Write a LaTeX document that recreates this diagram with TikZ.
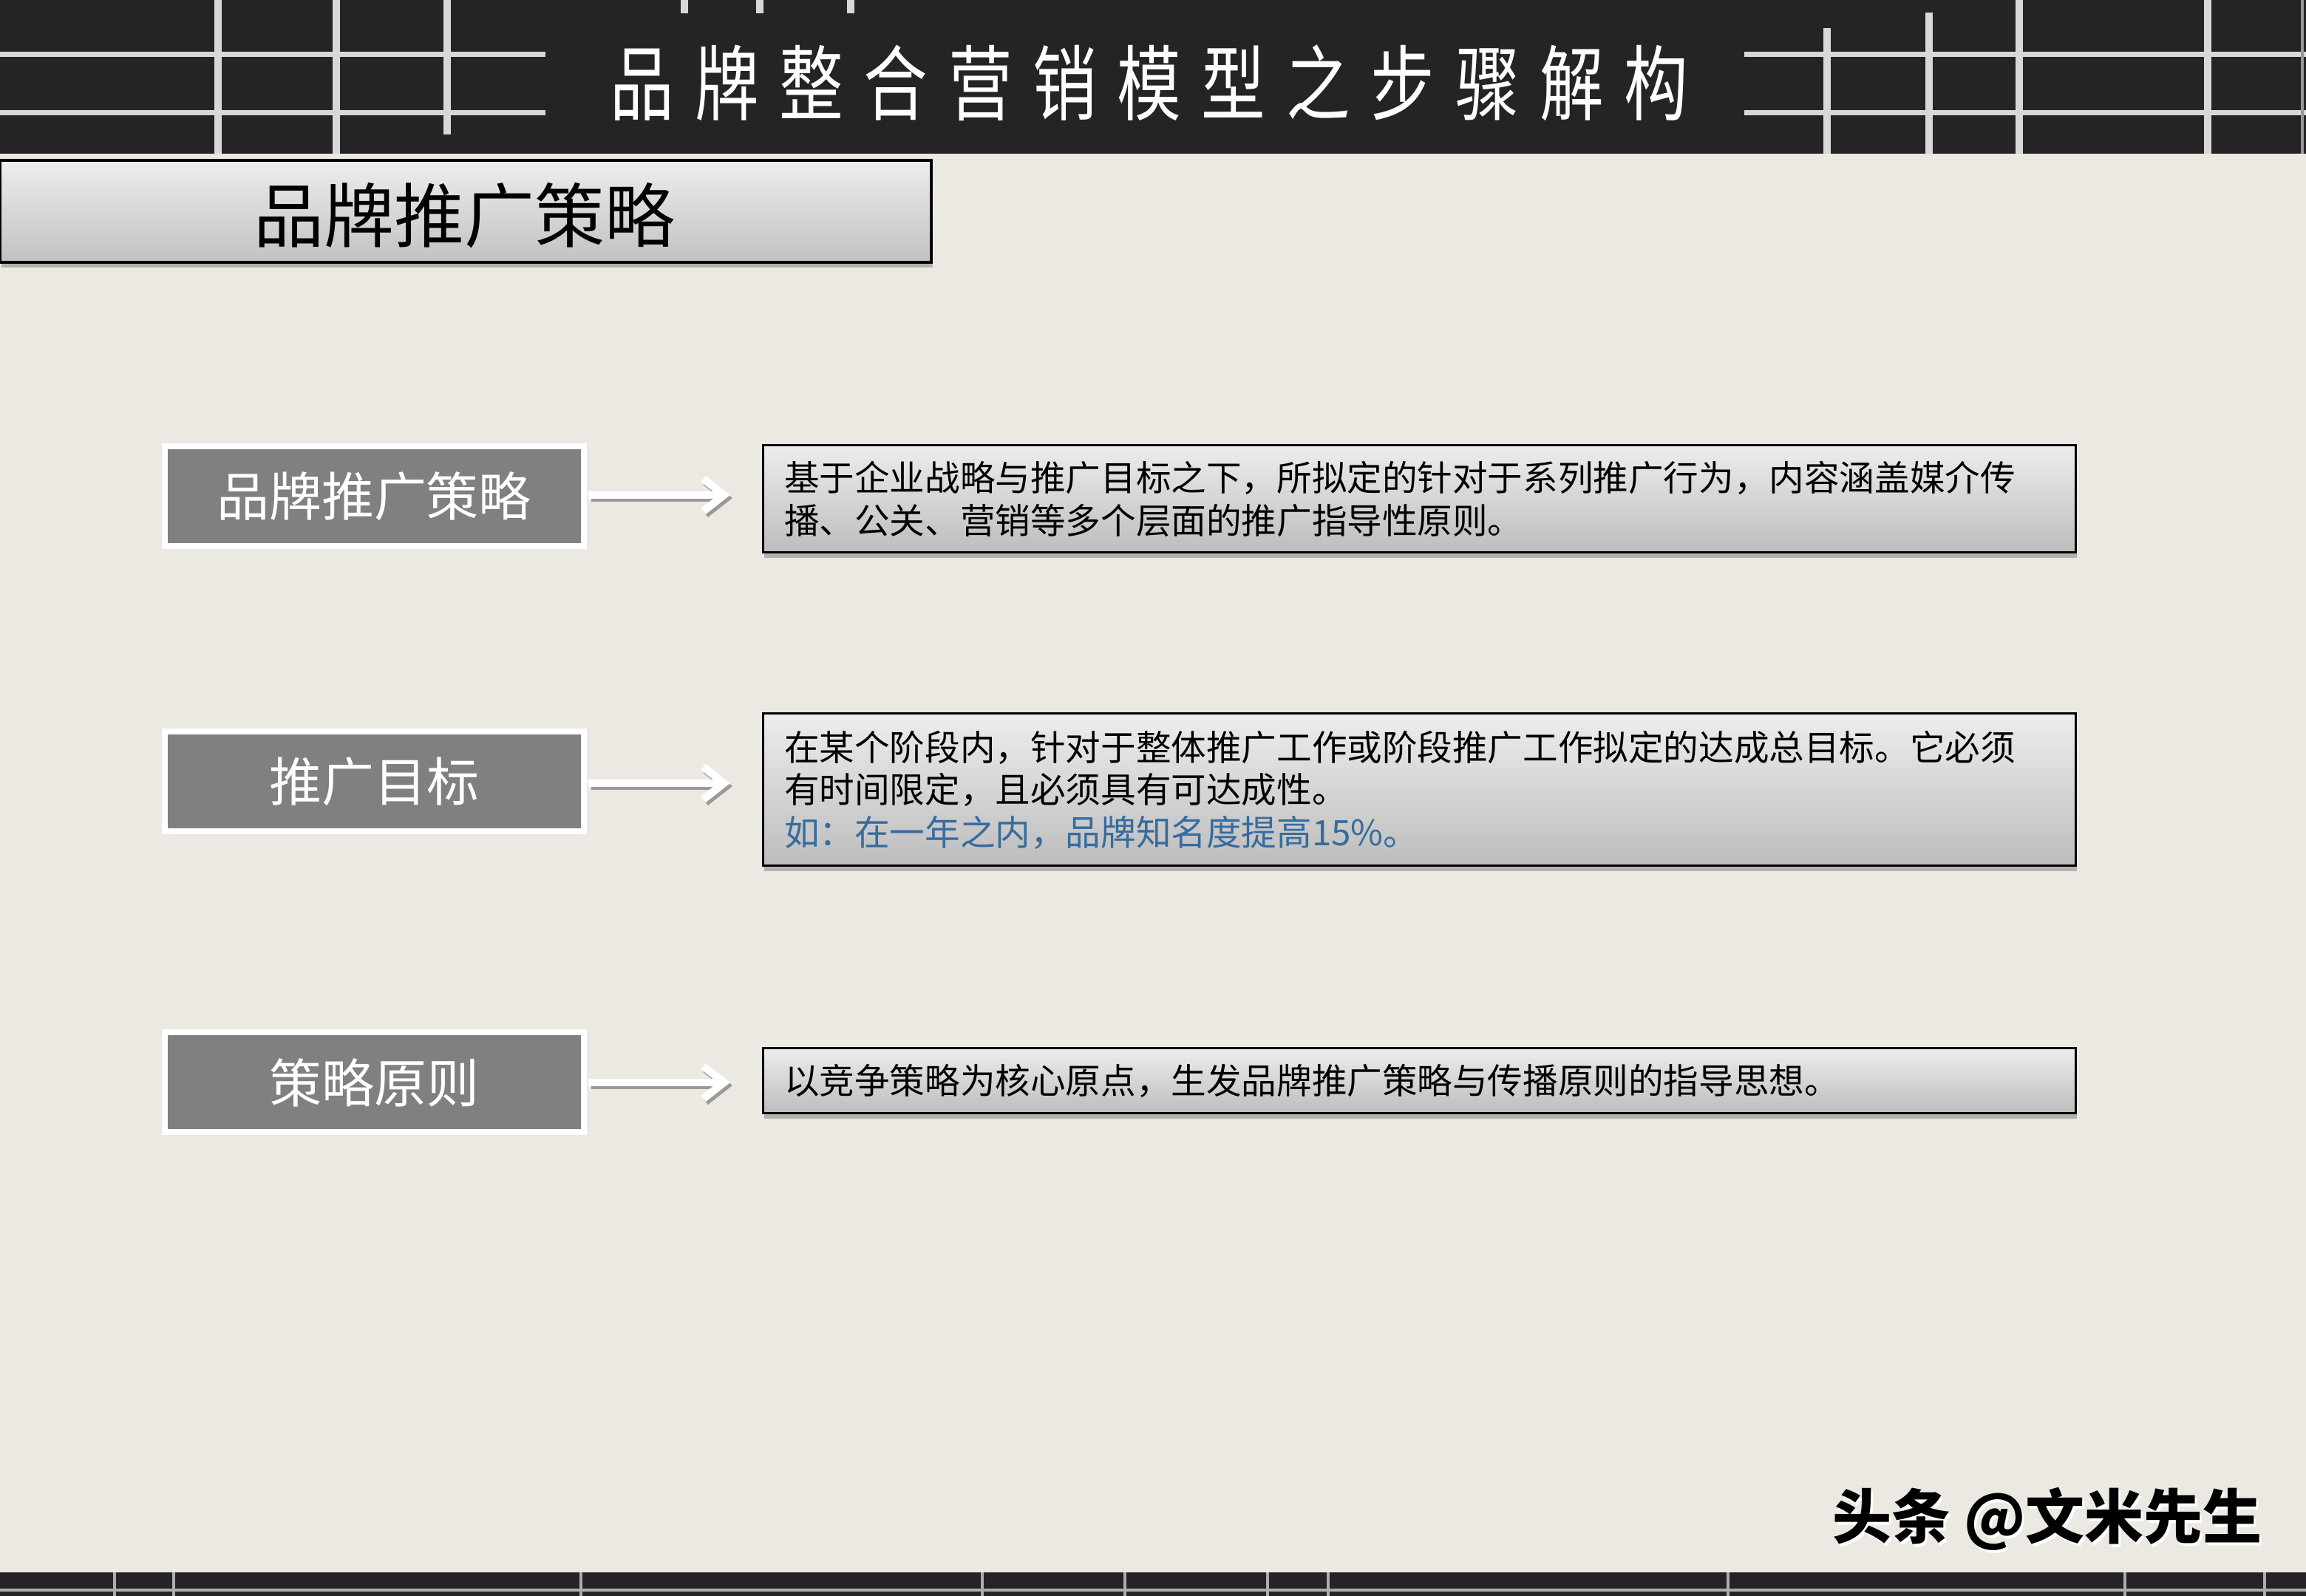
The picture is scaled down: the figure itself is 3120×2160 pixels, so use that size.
\documentclass[tikz,border=0pt]{standalone}
\usepackage{fontspec}
\setmainfont{Noto Sans CJK SC}
\newfontfamily\hdfont[FakeStretch=0.78,LetterSpace=25]{Noto Sans CJK SC}
\usetikzlibrary{shadows,arrows.meta}
\definecolor{bg}{RGB}{236,232,226}
\definecolor{hdbg}{RGB}{37,35,38}
\definecolor{hdline}{RGB}{216,216,216}
\definecolor{boxgray}{RGB}{128,128,128}
\definecolor{exblue}{RGB}{54,108,158}
\tikzset{
  hline/.style={draw=hdline, line width=1.75pt},
  vline/.style={draw=hdline, line width=2.5pt},
  fline/.style={draw=hdline!80!black, line width=0.8pt},
  titlebox/.style={draw=black, line width=0.8pt, top color=black!7, bottom color=black!24,
    minimum width=315pt, minimum height=34.5pt, inner sep=0pt,
    drop shadow={shadow xshift=0.5pt, shadow yshift=-1.8pt, opacity=0.35, fill=black!70}},
  keybox/.style={draw=white, line width=2pt, fill=boxgray, text=white,
    minimum width=141.75pt, minimum height=33.75pt, inner sep=0pt,
    font=\fontsize{17.75}{20}\selectfont},
  descbox/.style={draw=black, line width=0.75pt, top color=black!7, bottom color=black!26,
    text width=429.5pt, inner xsep=7.25pt, inner ysep=0pt, align=left,
    font=\fontsize{11.9}{14.4}\selectfont,
    drop shadow={shadow xshift=0.5pt, shadow yshift=-1.8pt, opacity=0.35, fill=black!70}},
  arrowsh/.style={draw=black!50, opacity=0.75, line width=2.6pt,
    -{Straight Barb[length=7pt,width=11pt]}},
  arrowmain/.style={draw=white, line width=2.6pt,
    -{Straight Barb[length=7pt,width=11pt]}}
}
\begin{document}
\begin{tikzpicture}[x=0.25pt,y=-0.25pt]
\useasboundingbox (0,0) rectangle (3120,2160);
\fill[bg] (0,0) rectangle (3120,2160);

% header band
\fill[hdbg] (0,0) rectangle (3120,208);
\draw[hline] (0,74) -- (738,74);
\draw[hline] (0,153) -- (738,153);
\draw[hline] (2360,74) -- (3120,74);
\draw[hline] (2360,153) -- (3120,153);
\draw[vline] (295,0) -- (295,208);
\draw[vline] (455,0) -- (455,208);
\draw[vline] (605,0) -- (605,182);
\draw[vline] (926,0) -- (926,18);
\draw[vline] (1028,0) -- (1028,18);
\draw[vline] (1151,0) -- (1151,18);
\draw[vline] (2472,38) -- (2472,208);
\draw[vline] (2610,17) -- (2610,208);
\draw[vline] (2732,0) -- (2732,208);
\draw[vline] (2987,0) -- (2987,208);
\draw[draw=hdline!70!black, line width=1.2pt] (3115,0) -- (3115,208);
\node[text=white, font=\hdfont\fontsize{27.75}{30}\selectfont, inner sep=0pt] (hdtitle) at (1555,112) {品牌整合营销模型之步骤解构};

% title box
\node[titlebox] (tbox) at (630,286) {};
\node[font=\fontsize{23.75}{26}\selectfont, inner sep=0pt] (ttext) at (628,292) {品牌推广策略};

% key boxes
\node[keybox] (k1) at (506,671.5) {品牌推广策略};
\node[keybox] (k2) at (506,1058) {推广目标};
\node[keybox] (k3) at (506,1465) {策略原则};

% description boxes
\node[descbox, minimum height=36.25pt] (d1) at (1920,675.5)
  {基于企业战略与推广目标之下，所拟定的针对于系列推广行为，内容涵盖媒介传\\播、公关、营销等多个层面的推广指导性原则。};
\node[descbox, minimum height=51.5pt] (d2) at (1920,1069)
  {在某个阶段内，针对于整体推广工作或阶段推广工作拟定的达成总目标。它必须\\有时间限定，且必须具有可达成性。\\\textcolor{exblue}{如：在一年之内，品牌知名度提高15\%。}};
\node[descbox, minimum height=22pt] (d3) at (1920,1463)
  {以竞争策略为核心原点，生发品牌推广策略与传播原则的指导思想。};

% arrows
\coordinate (a1) at (988,670);
\coordinate (a2) at (988,1060);
\coordinate (a3) at (988,1465);
\coordinate (s1) at (991,674);
\coordinate (s2) at (991,1064);
\coordinate (s3) at (991,1469);
\draw[arrowsh] ([xshift=1.5pt,yshift=-1pt]k1.east |- a1) -- (s1);
\draw[arrowsh] ([xshift=1.5pt,yshift=-1pt]k2.east |- a2) -- (s2);
\draw[arrowsh] ([xshift=1.5pt,yshift=-1pt]k3.east |- a3) -- (s3);
\draw[arrowmain] ([xshift=0.5pt]k1.east |- a1) -- (a1);
\draw[arrowmain] ([xshift=0.5pt]k2.east |- a2) -- (a2);
\draw[arrowmain] ([xshift=0.5pt]k3.east |- a3) -- (a3);

% footer band
\fill[hdbg] (0,2128) rectangle (3120,2160);
\draw[fline] (0,2152) -- (3120,2152);
\foreach \xx in {155,235,786,1329,1522,1715,1797,2338,2875,3064}
  \draw[fline] (\xx,2128) -- (\xx,2160);

% watermark
\node[text=white, font=\fontsize{20}{24}\selectfont\bfseries, inner sep=0pt] (wmsh) at (2773,2060) {头条 @文米先生};
\node[text=black, font=\fontsize{20}{24}\selectfont\bfseries, inner sep=0pt] (wm) at (2770,2056) {头条 @文米先生};
\end{tikzpicture}
\end{document}
